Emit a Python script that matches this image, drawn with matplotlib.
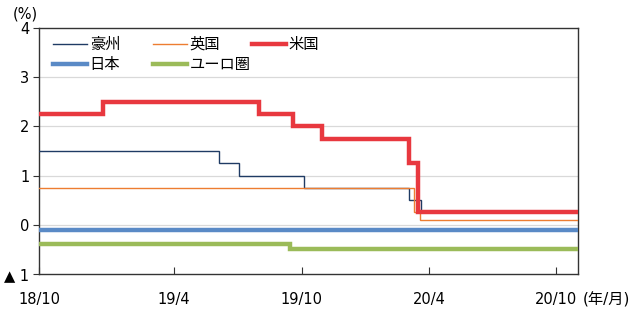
import matplotlib
matplotlib.use("Agg")
import matplotlib.pyplot as plt
import matplotlib.dates as mdates
from matplotlib.legend import Legend
from datetime import datetime as dt

plt.rcParams['font.family'] = ['DejaVu Sans', 'Noto Sans CJK JP']

# ---- data (policy rates, %) ----
start_date = "2018-09-19"
end_date = "2020-11-01"

au_dates = ["2018-09-19", "2019-06-05", "2019-07-03", "2019-10-04", "2020-03-04", "2020-03-20"]
au_vals = [1.50, 1.25, 1.00, 0.75, 0.50, 0.25]

uk_dates = ["2018-09-19", "2020-03-11", "2020-03-19"]
uk_vals = [0.75, 0.25, 0.10]

us_dates = ["2018-09-19", "2018-12-20", "2019-08-01", "2019-09-19", "2019-10-31", "2020-03-04", "2020-03-16"]
us_vals = [2.25, 2.50, 2.25, 2.00, 1.75, 1.25, 0.25]

jp_dates = ["2018-09-19"]
jp_vals = [-0.10]

eu_dates = ["2018-09-19", "2019-09-14"]
eu_vals = [-0.40, -0.50]

labels = ["豪州", "英国", "米国", "日本", "ユーロ圏"]
colors = ["#1f3b64", "#ed7d31", "#e8383f", "#5a8ac6", "#9bbb59"]
widths = [1.0, 1.0, 3.2, 3.2, 3.2]

xtick_dates = ["2018-09-19", "2019-04-01", "2019-10-01", "2020-04-01", "2020-10-01"]
xtick_labels = ["18/10", "19/4", "19/10", "20/4", "20/10"]
ytick_vals = [-1, 0, 1, 2, 3, 4]
ytick_labels = ["▲ 1", "0", "1", "2", "3", "4"]


def to_num(ds):
    return [mdates.date2num(dt.strptime(d, "%Y-%m-%d")) for d in ds]


fig = plt.figure(figsize=(6.4, 3.11), dpi=100)
AX_L, AX_R, AX_T, AX_B = 39, 578, 28, 274
ax = fig.add_axes([AX_L/640, 1-AX_B/311, (AX_R-AX_L)/640, (AX_B-AX_T)/311])

series = [(au_dates, au_vals), (uk_dates, uk_vals), (us_dates, us_vals),
          (jp_dates, jp_vals), (eu_dates, eu_vals)]
end_num = to_num([end_date])[0]
handles = []
for (ds, vs), lab, c, w in zip(series, labels, colors, widths):
    xs = to_num(ds) + [end_num]
    ys = list(vs) + [vs[-1]]
    h, = ax.step(xs, ys, where='post', color=c, lw=w, label=lab,
                 solid_joinstyle='miter', zorder=3)
    handles.append(h)

start_num = to_num([start_date])[0]
ax.set_xlim(start_num, end_num)
ax.set_ylim(-1, 4)

ax.set_yticks(ytick_vals)
ax.set_yticklabels(ytick_labels, fontsize=10.5)
ax.set_xticks(to_num(xtick_dates))
ax.set_xticklabels(xtick_labels, fontsize=10.5)

ax.tick_params(axis='x', direction='in', length=5, width=0.8, pad=13, color='#333333')
ax.tick_params(axis='y', direction='out', length=4, width=0.8, pad=3, color='#333333')

for s in ax.spines.values():
    s.set_color('#333333')
    s.set_linewidth(1.0)

for yv in [0, 1, 2, 3]:
    ax.axhline(yv, color='#d9d9d9', lw=0.9, zorder=1)

fig.text(13/640, 1-14/311, "(%)", fontsize=10.5, va='center', ha='left')
fig.text(583/640, 1-300/311, "(年/月)", fontsize=11, va='center', ha='left')

# legend: three fixed-width columns like the reference
cols = [[0, 3], [1, 4], [2]]
col_x = [53, 153, 252]
for idxs, xp in zip(cols, col_x):
    lg = Legend(ax, [handles[i] for i in idxs], [labels[i] for i in idxs],
                loc='upper left',
                bbox_to_anchor=((xp - AX_L) / (AX_R - AX_L), 1 - 9 / (AX_B - AX_T)),
                frameon=False, fontsize=11, handlelength=2.2,
                handletextpad=0.2, labelspacing=0.32,
                borderaxespad=0.0, borderpad=0.0)
    ax.add_artist(lg)

fig.savefig("out.png", dpi=100)
